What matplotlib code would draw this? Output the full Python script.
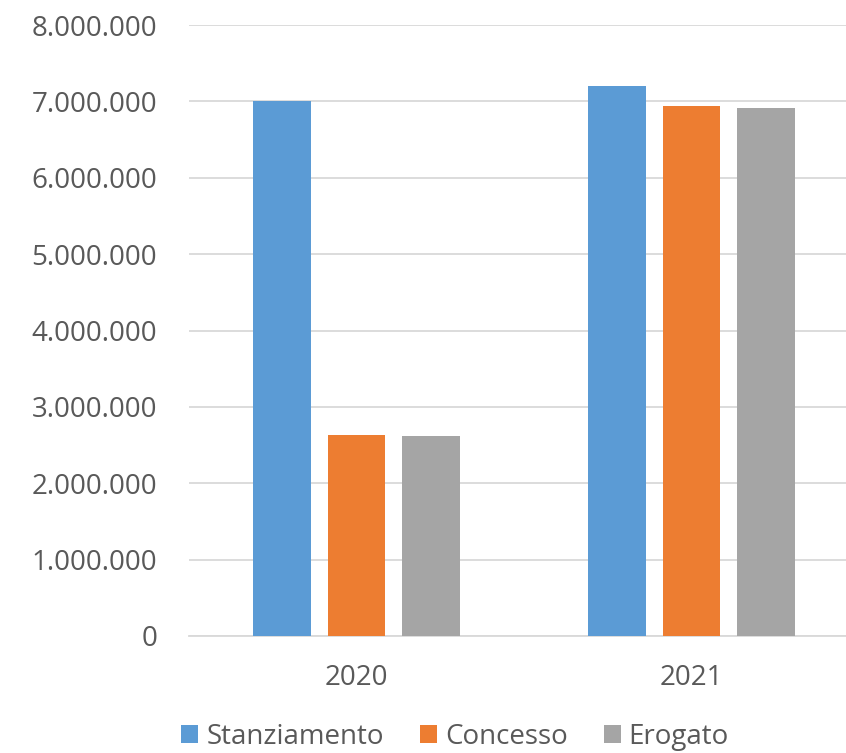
import matplotlib
matplotlib.use("Agg")
import matplotlib.pyplot as plt
import numpy as np
from matplotlib.ticker import FuncFormatter

categories = ["2020", "2021"]
series_names = ["Stanziamento", "Concesso", "Erogato"]
stanziamento = [7000000, 7200000]
concesso = [2630000, 6940000]
erogato = [2625000, 6910000]
colors = ["#5B9BD5", "#ED7D31", "#A5A5A5"]

W, H = 846, 753
fig = plt.figure(figsize=(W/100, H/100), dpi=100)
left, right = 189/W, 846/W
bottom, top = 1 - 636/H, 1 - 25/H
ax = fig.add_axes([left, bottom, right-left, top-bottom])

x = np.arange(len(categories))
bw = 0.173
pitch = 0.222
data = [stanziamento, concesso, erogato]
for i, (vals, c, name) in enumerate(zip(data, colors, series_names)):
    ax.bar(x + (i-1)*pitch, vals, width=bw, color=c, label=name, zorder=3)

ax.set_ylim(0, 8000000)
ax.set_yticks(np.arange(0, 8000001, 1000000))
ax.yaxis.set_major_formatter(FuncFormatter(lambda v, p: f"{int(v):,}".replace(",", ".")))
ax.set_xlim(-0.5, 1.5 - 13/335)
ax.set_xticks(x)
ax.set_xticklabels(categories)
ax.grid(axis="y", color="#D9D9D9", linewidth=1.3, zorder=0)
for s in ["top", "right", "left"]:
    ax.spines[s].set_visible(False)
ax.spines["bottom"].set_color("#D9D9D9")
ax.spines["bottom"].set_linewidth(1.3)
ax.tick_params(axis="both", length=0)
ax.tick_params(axis="y", pad=23, labelsize=20, labelcolor="#595959")
ax.tick_params(axis="x", pad=20, labelsize=20, labelcolor="#595959")
for t in ax.get_yticklabels():
    t.set_family("Open Sans")
for t in ax.get_xticklabels():
    t.set_family("Open Sans")

leg = fig.legend(loc="center", bbox_to_anchor=(455/W, 1 - 737/H), ncol=3, frameon=False,
                 prop={"family": "Open Sans", "size": 20}, handlelength=0.61, handleheight=0.61,
                 handletextpad=0.29, columnspacing=1.3, borderaxespad=0, borderpad=0)
for t in leg.get_texts():
    t.set_color("#595959")

fig.savefig("out.png", dpi=100)
